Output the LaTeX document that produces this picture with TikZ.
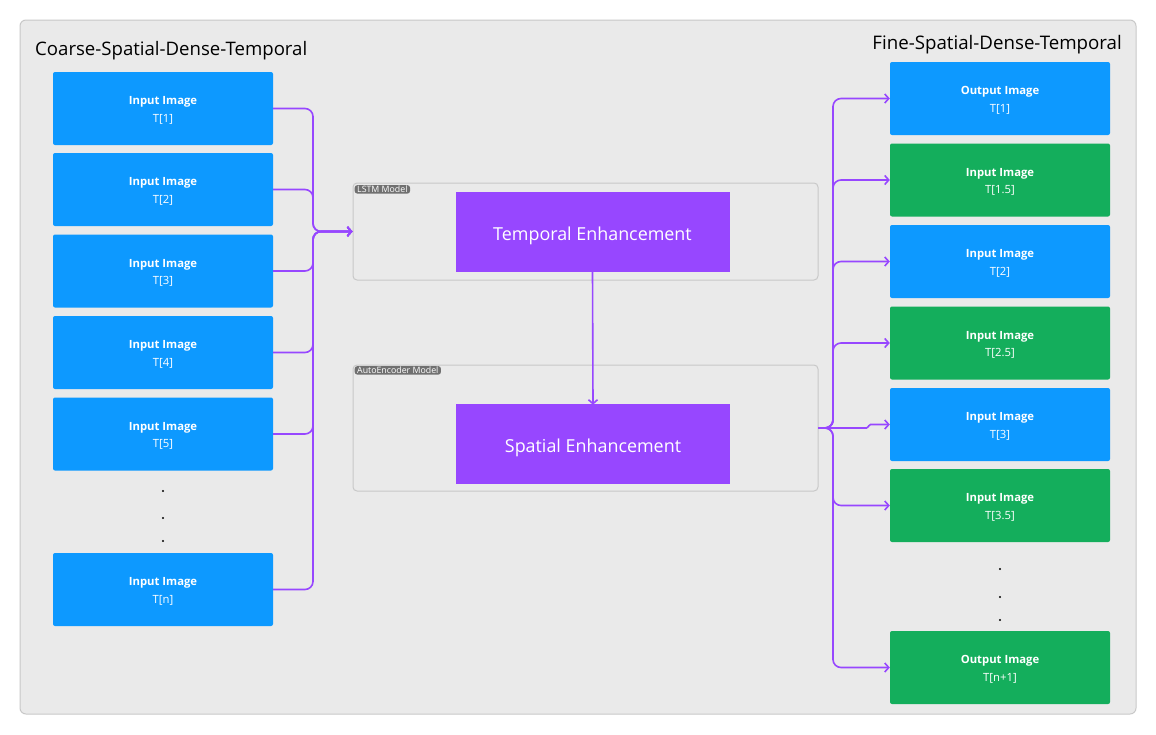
\documentclass[tikz,border=0pt]{standalone}
\usepackage{fontspec}
\setmainfont{Open Sans}
\usetikzlibrary{arrows.meta}
\definecolor{fblue}{HTML}{0D99FF}
\definecolor{fgreen}{HTML}{14AE5C}
\definecolor{fpurple}{HTML}{9747FF}
\definecolor{bgray}{HTML}{EAEAEA}
\definecolor{fgrayline}{HTML}{C8C8C8}
\definecolor{taggray}{HTML}{707070}
\tikzset{
  imgbox/.style={rectangle, rounded corners=2pt, minimum width=220pt, minimum height=73pt, inner sep=0pt, text=white, align=center, font=\fontsize{11.3}{17.7}\selectfont},
  bluebox/.style={imgbox, fill=fblue},
  greenbox/.style={imgbox, fill=fgreen},
  enhbox/.style={rectangle, fill=fpurple, minimum width=274pt, minimum height=80pt, inner sep=0pt, text=white, font=\fontsize{17.9}{20}\selectfont},
  modelbox/.style={rectangle, draw=fgrayline, line width=1pt, rounded corners=4pt, minimum width=465pt, inner sep=0pt},
  tagbox/.style={rectangle, fill=taggray, rounded corners=2.5pt, text=white, inner xsep=2.5pt, inner ysep=0.8pt, font=\fontsize{8.8}{9}\selectfont},
  conn/.style={draw=fpurple, line width=1.6pt, rounded corners=8pt, -{Straight Barb[length=4pt,width=9pt]}},
  dotn/.style={circle, fill=black, inner sep=0pt, minimum size=2.4pt},
  title/.style={inner sep=0pt}
}
\newcommand{\boxtext}[2]{\raisebox{0pt}[9.7pt][0pt]{\textbf{#1}}\\\raisebox{0pt}[9pt][0pt]{#2}}
\newcommand{\enhtext}[1]{\raisebox{0pt}[16pt][0pt]{#1}}
\begin{document}
\begin{tikzpicture}[x=1pt,y=-1pt]
\useasboundingbox (0,0) rectangle (1156,734);
\fill[white] (0,0) rectangle (1156,734);
\draw[fill=bgray, draw=fgrayline, line width=1pt, rounded corners=6pt] (20,20) rectangle (1136,714);

\node[title, anchor=base west, font=\fontsize{18.6}{20}\selectfont] (tl) at (35,55) {Coarse-Spatial-Dense-Temporal};
\node[title, anchor=base east, font=\fontsize{18.7}{20}\selectfont] (tr) at (1122,49) {Fine-Spatial-Dense-Temporal};

% left input boxes
\node[bluebox] (L1) at (163,108.5) {\boxtext{Input Image}{T[1]}};
\node[bluebox] (L2) at (163,189.5) {\boxtext{Input Image}{T[2]}};
\node[bluebox] (L3) at (163,271) {\boxtext{Input Image}{T[3]}};
\node[bluebox] (L4) at (163,352.5) {\boxtext{Input Image}{T[4]}};
\node[bluebox] (L5) at (163,434) {\boxtext{Input Image}{T[5]}};
\node[bluebox] (Ln) at (163,589.5) {\boxtext{Input Image}{T[n]}};
\node[dotn] (ld1) at (163,491) {};
\node[dotn] (ld2) at (163,518) {};
\node[dotn] (ld3) at (163,541) {};

% model boxes
\node[modelbox, minimum height=97pt] (lstm) at (585.5,231.5) {};
\node[tagbox, anchor=north west] (lstmtag) at (354.5,185) {LSTM Model};
\node[enhbox] (temp) at (592.5,232) {\enhtext{Temporal Enhancement}};

\node[modelbox, minimum height=126pt] (ae) at (585.5,428) {};
\node[tagbox, anchor=north west] (aetag) at (354.5,366) {AutoEncoder Model};
\node[enhbox] (spat) at (593,444) {\enhtext{Spatial Enhancement}};

% right output boxes
\node[bluebox] (R1) at (1000,98.5) {\boxtext{Output Image}{T[1]}};
\node[greenbox] (R2) at (1000,180) {\boxtext{Input Image}{T[1.5]}};
\node[bluebox] (R3) at (1000,261.5) {\boxtext{Input Image}{T[2]}};
\node[greenbox] (R4) at (1000,343) {\boxtext{Input Image}{T[2.5]}};
\node[bluebox] (R5) at (1000,424.5) {\boxtext{Input Image}{T[3]}};
\node[greenbox] (R6) at (1000,505.5) {\boxtext{Input Image}{T[3.5]}};
\node[greenbox] (Rn) at (1000,667.5) {\boxtext{Output Image}{T[n+1]}};
\node[dotn] (rd1) at (1000,569) {};
\node[dotn] (rd2) at (1000,597) {};
\node[dotn] (rd3) at (1000,620) {};

% left connectors
\coordinate (busL) at (313,231.5);
\foreach \n in {L1,L2,L3,L4,L5,Ln}{
  \draw[conn] (\n.east) -| (busL) -- (lstm.west);
}

% temporal -> spatial
\draw[conn, rounded corners=0pt] (temp.south) -- ([yshift=-1pt]spat.north);

% right connectors
\coordinate (busR) at (833,428);
\foreach \n in {R1,R2,R3,R4,R6,Rn}{
  \draw[conn] (ae.east) -- (busR) |- (\n.west);
}
\draw[conn, rounded corners=1.5pt] (ae.east) -- (868,428) -- (869,424.5) -- (R5.west);
\end{tikzpicture}
\end{document}
